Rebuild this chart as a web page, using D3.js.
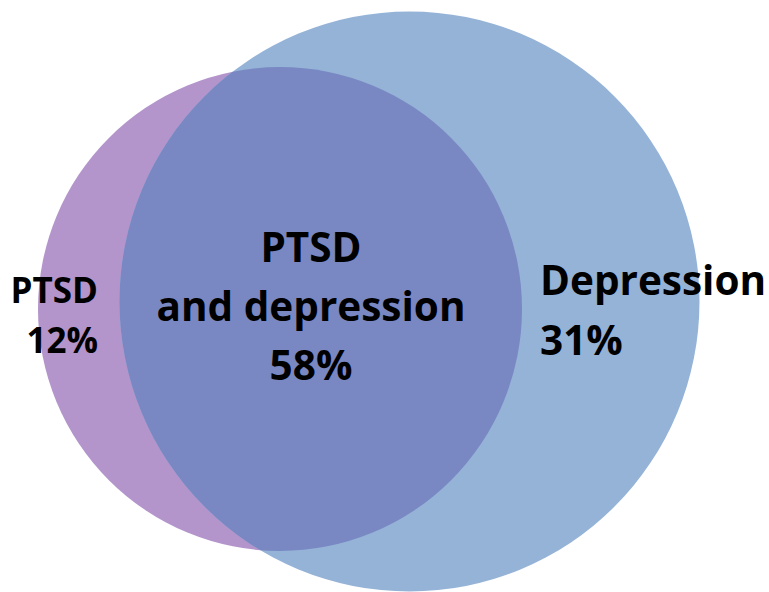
<!DOCTYPE html>
<html>
<head>
<meta charset="utf-8">
<script src="https://cdn.jsdelivr.net/npm/d3@7"></script>
<style>
  html, body { margin: 0; padding: 0; background: #fff; }
  svg { display: block; }
</style>
</head>
<body>
<svg id="chart" width="769" height="592"></svg>
<script>
// region labels and their shares (percent)
const regionNames = ['PTSD', 'PTSD|and depression', 'Depression'];
const regionValues = [12, 58, 31];

// the two sets of the diagram
const setNames = ['PTSD', 'Depression'];
const setColors = ['#b395cc', '#95b3d7'];
const overlapColor = '#7988c3';

const svg = d3.select('#chart');
const width = 769;
const height = 592;

// layout in unit coordinates, mapped to pixels through scales
const x = d3.scaleLinear().domain([0, 1]).range([0, width]);
const y = d3.scaleLinear().domain([0, 1]).range([0, height]);
const circles = [
  { name: setNames[0], cx: 0.3641, cy: 0.5220, r: 242 },
  { name: setNames[1], cx: 0.5325, cy: 0.5093, r: 290 },
];

const defs = svg.append('defs');
defs.append('clipPath')
  .attr('id', 'clipDep')
  .append('circle')
  .attr('cx', x(circles[1].cx))
  .attr('cy', y(circles[1].cy))
  .attr('r', circles[1].r);

svg.append('g')
  .selectAll('circle')
  .data(circles)
  .join('circle')
  .attr('cx', d => x(d.cx))
  .attr('cy', d => y(d.cy))
  .attr('r', d => d.r)
  .attr('fill', (d, i) => setColors[i]);

// overlap region: PTSD circle clipped to the depression circle
svg.append('circle')
  .attr('cx', x(circles[0].cx))
  .attr('cy', y(circles[0].cy))
  .attr('r', circles[0].r)
  .attr('clip-path', 'url(#clipDep)')
  .attr('fill', overlapColor);

// labels
const fontFam = '"Open Sans", Lato, sans-serif';
const labelPos = [
  { x: 98, y: 303, anchor: 'end', size: 35, gap: 50 },
  { x: 311, y: 262, anchor: 'middle', size: 40.5, gap: 59 },
  { x: 540, y: 295, anchor: 'start', size: 40.5, gap: 60 },
];

regionNames.forEach((name, i) => {
  const p = labelPos[i];
  const lines = name.split('|').concat([`${regionValues[i]}%`]);
  const t = svg.append('text')
    .attr('x', p.x)
    .attr('y', p.y)
    .attr('text-anchor', p.anchor)
    .attr('font-family', fontFam)
    .attr('font-weight', 'bold')
    .attr('font-size', p.size)
    .attr('fill', '#000');
  lines.forEach((ln, j) => {
    t.append('tspan')
      .attr('x', p.x)
      .attr('y', p.y + j * p.gap)
      .text(ln);
  });
});
</script>
</body>
</html>
